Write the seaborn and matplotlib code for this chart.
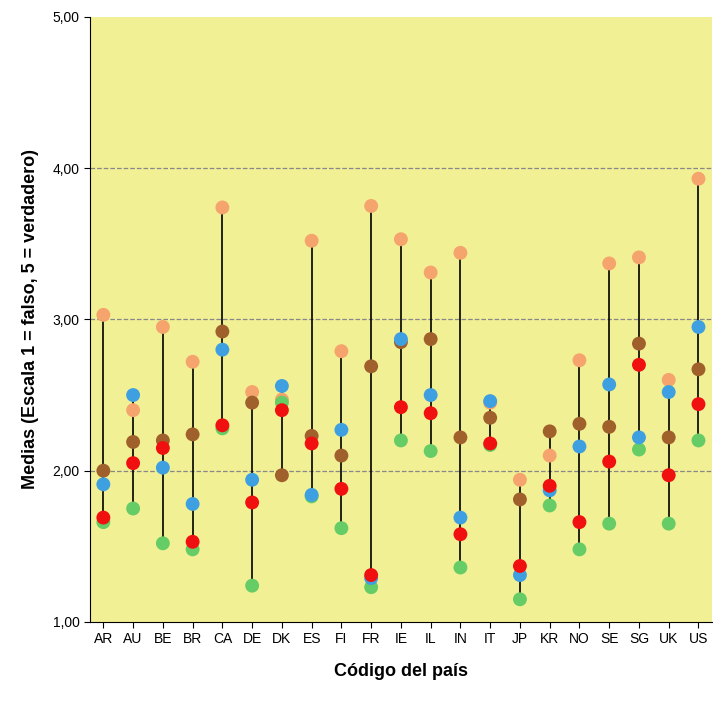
import pandas as pd
import seaborn as sns
import matplotlib.pyplot as plt
from matplotlib.ticker import FuncFormatter

countries = ["AR", "AU", "BE", "BR", "CA", "DE", "DK", "ES", "FI", "FR", "IE",
             "IL", "IN", "IT", "JP", "KR", "NO", "SE", "SG", "UK", "US"]
orange = [3.03, 2.40, 2.95, 2.72, 3.74, 2.52, 2.47, 3.52, 2.79, 3.75, 3.53,
          3.31, 3.44, 2.45, 1.94, 2.10, 2.73, 3.37, 3.41, 2.60, 3.93]
brown = [2.00, 2.19, 2.20, 2.24, 2.92, 2.45, 1.97, 2.23, 2.10, 2.69, 2.85,
         2.87, 2.22, 2.35, 1.81, 2.26, 2.31, 2.29, 2.84, 2.22, 2.67]
green = [1.66, 1.75, 1.52, 1.48, 2.28, 1.24, 2.45, 1.83, 1.62, 1.23, 2.20,
         2.13, 1.36, 2.17, 1.15, 1.77, 1.48, 1.65, 2.14, 1.65, 2.20]
blue = [1.91, 2.50, 2.02, 1.78, 2.80, 1.94, 2.56, 1.84, 2.27, 1.29, 2.87,
        2.50, 1.69, 2.46, 1.31, 1.87, 2.16, 2.57, 2.22, 2.52, 2.95]
red = [1.69, 2.05, 2.15, 1.53, 2.30, 1.79, 2.40, 2.18, 1.88, 1.31, 2.42,
       2.38, 1.58, 2.18, 1.37, 1.90, 1.66, 2.06, 2.70, 1.97, 2.44]

series = {"orange": orange, "brown": brown, "green": green, "blue": blue, "red": red}
colors = {"orange": "#F4A46C", "brown": "#A0602C", "green": "#66CC66",
          "blue": "#3EA0E0", "red": "#F01010"}

rows = []
for name, vals in series.items():
    for c, v in zip(countries, vals):
        rows.append({"pais": c, "media": v, "serie": name})
df = pd.DataFrame(rows)

sns.set_style("white")
plt.rcParams["font.family"] = ["Liberation Sans", "DejaVu Sans"]
plt.rcParams["text.color"] = "black"
plt.rcParams["axes.labelcolor"] = "black"
plt.rcParams["xtick.color"] = "black"
plt.rcParams["ytick.color"] = "black"

fig = plt.figure(figsize=(7.14, 7.02), dpi=100)
ax = fig.add_axes([0.126, 0.114, 0.871, 0.862])
ax.set_facecolor("#F2F094")

for y in [2, 3, 4]:
    ax.axhline(y, color="#888888", linestyle="--", linewidth=0.9, zorder=1)

xs = range(len(countries))
lo = df.groupby("pais", sort=False)["media"].min()
hi = df.groupby("pais", sort=False)["media"].max()
ax.vlines(list(xs), lo.values, hi.values, color="black", linewidth=1.2, zorder=2)

sns.scatterplot(data=df, x="pais", y="media", hue="serie", palette=colors,
                s=100, edgecolor="none", legend=False, ax=ax, zorder=3)

ax.set_ylim(1, 5)
ax.set_xlim(-0.45, len(countries) - 0.55)
ax.set_yticks([1, 2, 3, 4, 5])
ax.yaxis.set_major_formatter(FuncFormatter(lambda v, p: f"{v:.2f}".replace(".", ",")))
ax.tick_params(axis="both", labelsize=10, length=4, direction="out", left=True, bottom=True)
for s in ["top", "right"]:
    ax.spines[s].set_visible(False)
for s in ["left", "bottom"]:
    ax.spines[s].set_color("black")
ax.set_xlabel("Código del país", fontsize=13, fontweight="bold", labelpad=12)
ax.set_ylabel("Medias (Escala 1 = falso, 5 = verdadero)", fontsize=13, fontweight="bold", labelpad=10)

plt.savefig("out.png", dpi=100)
